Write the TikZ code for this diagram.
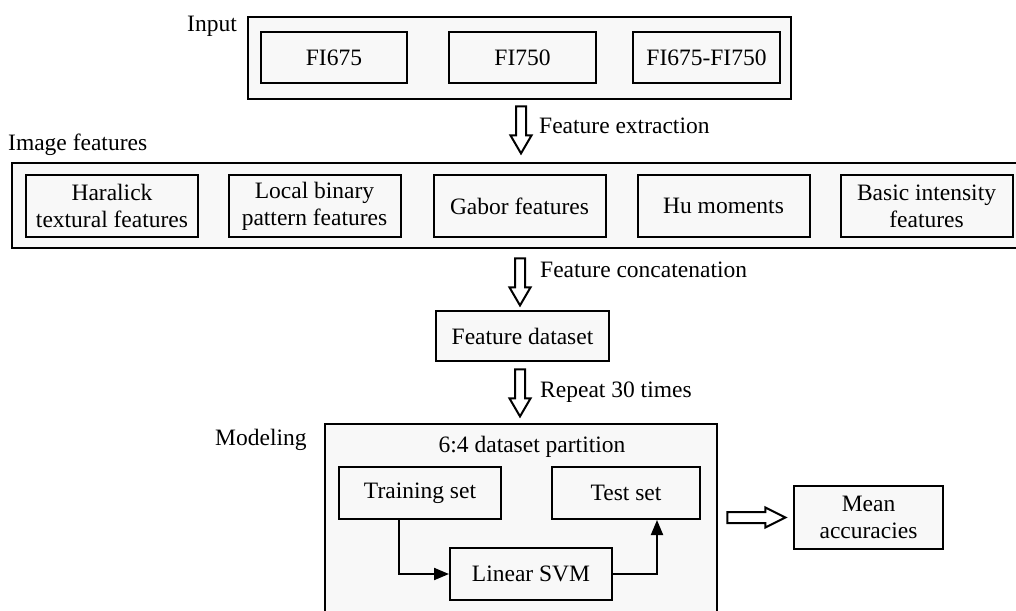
\documentclass[tikz,border=0pt]{standalone}
\usepackage{fontspec}
\setmainfont{Liberation Serif}
\usetikzlibrary{positioning}
\usetikzlibrary{arrows.meta}
\definecolor{boxfill}{HTML}{F8F8F8}

\tikzset{
  pics/down hollow/.style={code={
    \draw[hollow] (-5,0) -- (-5,29) -- (-10.5,29) -- (0,47) -- (10.5,29) -- (5,29) -- (5,0) -- cycle;}},
  pics/right hollow/.style={code={
    \draw[hollow] (0,-5.5) -- (38,-5.5) -- (38,-10) -- (58,0) -- (38,10) -- (38,5.5) -- (0,5.5) -- cycle;}},
}

\begin{document}
\begin{tikzpicture}[x=1pt, y=-1pt,
    font=\fontsize{23.5}{27}\selectfont,
    outer/.style={draw, line width=2.8pt, fill=boxfill, inner sep=0pt},
    inner/.style={draw, line width=2pt, fill=boxfill, align=center, inner sep=0pt},
    tag/.style={inner sep=0pt, anchor=base west},
    hollow/.style={line width=2pt, fill=white, line join=miter},
    flow/.style={line width=2pt, -{Triangle[length=15pt, width=12pt]}},
    ]
    \clip (0,0) rectangle (1016,610);
    % Input group
    \node[outer, minimum width=543pt, minimum height=82pt] (inbox) at (519.5,58) {};
    \node[tag] (inlabel) at (187,32) {Input};
    \node[inner, minimum width=146pt, minimum height=51pt] (fi675) at (334,57.5) {FI675};
    \node[inner, minimum width=147pt, minimum height=51pt] (fi750) at (522.5,57.5) {FI750};
    \node[inner, minimum width=147pt, minimum height=51pt] (fiboth) at (706.5,57.5) {FI675-FI750};

    % Image features group
    \node[tag] (featlabel) at (8,150) {Image features};
    \node[outer, minimum width=1006pt, minimum height=85pt] (featbox) at (515,205.5) {};
    \foreach \name/\cx/\txt in {har/112/{Haralick\\textural features},
                                lbp/314.5/{Local binary\\pattern features},
                                gab/519.5/{Gabor features},
                                hu/723.5/{Hu moments},
                                bas/926.5/{Basic intensity\\features}}{
      \node[inner, minimum width=172pt, minimum height=62pt] (\name) at (\cx,206) {\txt};
    }

    % Feature dataset
    \node[outer, minimum width=173pt, minimum height=50pt] (dataset) at (522.5,336) {Feature dataset};

    % Modeling group
    \node[tag] (modlabel) at (215,445) {Modeling};
    \node[outer, minimum width=392pt, minimum height=196pt] (model) at (521,522) {};
    \node[inner sep=0pt, anchor=base] (split) at (532,452) {6:4 dataset partition};
    \node[inner, minimum width=162pt, minimum height=52pt] (train) at (420,493) {Training set};
    \node[inner, minimum width=148pt, minimum height=52pt] (test) at (626,493) {Test set};
    \node[inner, minimum width=162pt, minimum height=52pt] (svm) at (531,574) {Linear SVM};
    \draw[flow] ([xshift=-21pt]train.south) |- (svm.west);
    \draw[flow] (svm.east) -| ([xshift=31pt]test.south);

    % Result
    \node[outer, align=center, minimum width=149pt, minimum height=63pt] (mean) at (868.5,517.5) {Mean\\accuracies};

    % Hollow arrows between the stages
    \pic at ([yshift=-6pt]inbox.south -| 521,0) {down hollow};
    \node[tag] at (539,133) {Feature extraction};
    \pic at ([yshift=-9pt]featbox.south -| 520,0) {down hollow};
    \node[tag] at (540,277) {Feature concatenation};
    \pic at ([yshift=-7pt]dataset.south -| 520,0) {down hollow};
    \node[tag] at (540,397) {Repeat 30 times};
    \pic at ([xshift=9pt]mean.west -| model.east) {right hollow};
\end{tikzpicture}
\end{document}
